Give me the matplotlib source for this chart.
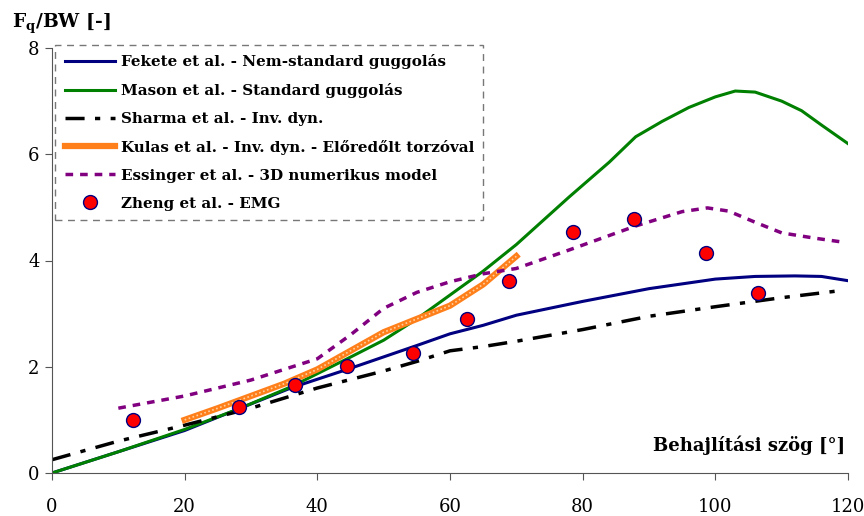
import numpy as np
import matplotlib
matplotlib.use("Agg")
import matplotlib.pyplot as plt

# Fekete et al. - non-standard squat
fekete_x = [0, 10, 20, 28, 36, 44.5, 55, 60, 65, 70, 80, 90, 100, 106, 112, 116, 120]
fekete_y = [0, 0.4, 0.8, 1.2, 1.6, 1.95, 2.4, 2.62, 2.78, 2.97, 3.23, 3.47, 3.65, 3.70, 3.71, 3.70, 3.62]

# Mason et al. - standard squat
mason_x = [0, 10, 20, 28, 36, 44.5, 50, 55, 60, 65, 70, 78, 84, 88, 92, 96, 100, 103, 106, 110, 113, 116, 120]
mason_y = [0, 0.4, 0.82, 1.2, 1.62, 2.15, 2.5, 2.9, 3.35, 3.8, 4.3, 5.2, 5.85, 6.33, 6.62, 6.88, 7.08, 7.19, 7.17, 7.0, 6.82, 6.55, 6.2]

# Sharma et al. - inverse dynamics
sharma_x = [0, 10, 20, 30, 40, 50, 55, 60, 65, 70, 80, 90, 100, 110, 118]
sharma_y = [0.25, 0.6, 0.9, 1.22, 1.6, 1.92, 2.1, 2.3, 2.38, 2.48, 2.7, 2.95, 3.13, 3.3, 3.42]

# Kulas et al. - inverse dynamics, trunk leaning forward
kulas_x = [20, 25, 30, 35, 40, 45, 50, 55, 60, 65, 70]
kulas_y = [1.0, 1.22, 1.45, 1.68, 1.95, 2.3, 2.65, 2.9, 3.15, 3.55, 4.08]

# Essinger et al. - 3D numerical model
essinger_x = [10, 20, 30, 40, 45, 50, 55, 60, 65, 70, 78, 88, 95, 98.8, 102, 106, 110, 115, 119]
essinger_y = [1.22, 1.45, 1.75, 2.15, 2.6, 3.1, 3.4, 3.6, 3.75, 3.85, 4.2, 4.65, 4.92, 4.99, 4.93, 4.72, 4.52, 4.42, 4.35]

# Zheng et al. - EMG
zheng_x = [12.2, 28.2, 36.7, 44.5, 54.4, 62.6, 68.9, 78.6, 87.8, 98.6, 106.5]
zheng_y = [1.0, 1.24, 1.66, 2.02, 2.26, 2.9, 3.62, 4.54, 4.78, 4.14, 3.39]

plt.rcParams['font.family'] = ['DejaVu Serif']

fig = plt.figure(figsize=(8.64, 5.16), dpi=100)
ax = fig.add_axes([52 / 864, 1 - 473 / 516, 796 / 864, 425 / 516])

ax.plot(fekete_x, fekete_y, color='#000080', lw=2.2,
        label='Fekete et al. - Nem-standard guggolás')
ax.plot(mason_x, mason_y, color='#008000', lw=2.2,
        label='Mason et al. - Standard guggolás')
ax.plot(sharma_x, sharma_y, color='black', lw=2.5, dashes=[5.5, 3, 1.5, 3],
        label='Sharma et al. - Inv. dyn.')
ax.plot(kulas_x, kulas_y, color='#ff7f1a', lw=4.5,
        label='Kulas et al. - Inv. dyn. - Előredőlt torzóval')
ax.plot(kulas_x, kulas_y, color='#ffd0a0', lw=1.2, dashes=[1, 1.5])
ax.plot(essinger_x, essinger_y, color='#800080', lw=2.5, dashes=[2.2, 2.0],
        label='Essinger et al. - 3D numerikus model')
ax.plot(zheng_x, zheng_y, ls='none', marker='o', ms=10, mfc='red',
        mec='#000080', mew=1, label='Zheng et al. - EMG')

ax.set_xlim(0, 120)
ax.set_ylim(0, 8)
ax.set_xticks(np.arange(0, 121, 20))
ax.set_yticks(np.arange(0, 9, 2))
for side in ['top', 'right']:
    ax.spines[side].set_visible(False)
for side in ['left', 'bottom']:
    ax.spines[side].set_color('#555555')
ax.tick_params(axis='x', direction='out', length=5, pad=13, labelsize=13, color='#555555')
ax.tick_params(axis='y', direction='out', length=5, pad=4, labelsize=13, color='#555555')

ax.text(0.997, 0.042, 'Behajlítási szög [°]', transform=ax.transAxes,
        ha='right', va='bottom', fontsize=13, fontweight='bold')
fig.text(12 / 864, 1 - 36 / 516, r'F$_\mathregular{q}$/BW [-]', ha='left', va='bottom',
         fontsize=13.5, fontweight='bold')

leg = ax.legend(loc='upper left', bbox_to_anchor=(0.004, 1.008), frameon=True,
                fancybox=False, prop={'weight': 'bold', 'size': 10.9},
                handlelength=3.3, handletextpad=0.4, labelspacing=0.92,
                borderpad=0.62, borderaxespad=0.0)
frame = leg.get_frame()
frame.set_edgecolor('#555555')
frame.set_linestyle((0, (5, 4)))
frame.set_linewidth(1)

fig.savefig('out.png', dpi=100)
